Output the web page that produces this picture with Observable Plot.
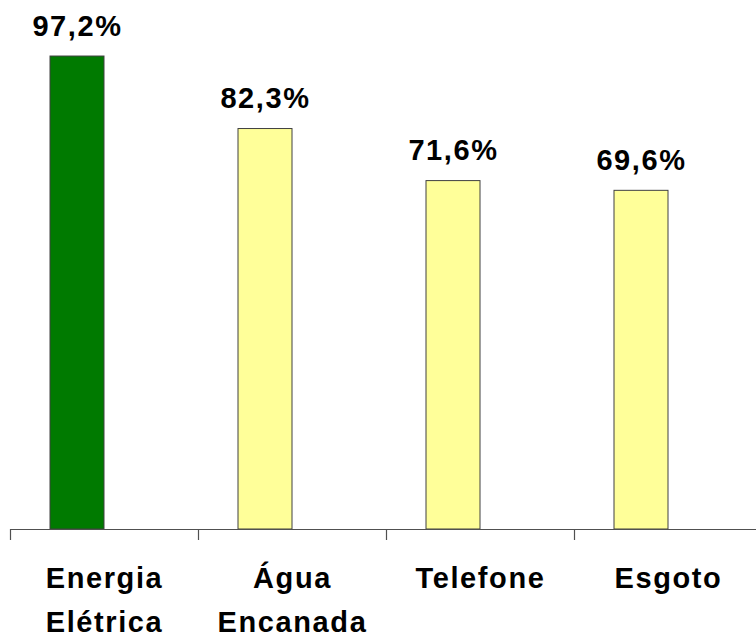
<!DOCTYPE html>
<html>
<head>
<meta charset="utf-8">
<script src="https://cdn.jsdelivr.net/npm/d3@7"></script>
<script src="https://cdn.jsdelivr.net/npm/@observablehq/plot@0.6"></script>
<style>
  html, body { margin: 0; padding: 0; background: #fff; }
  #chart svg text { letter-spacing: 1.6px; }
</style>
</head>
<body>
<div id="chart"></div>
<script>
const categories = ["Energia\nElétrica", "Água\nEncanada", "Telefone", "Esgoto"];
const values = [97.2, 82.3, 71.6, 69.6];
const fills = ["#007A00", "#FFFF99", "#FFFF99", "#FFFF99"];

const data = categories.map((c, i) => ({category: c, value: values[i], fill: fills[i]}));
const fmt = v => v.toFixed(1).replace(".", ",") + "%";

const chart = Plot.plot({
  width: 756,
  height: 635,
  marginLeft: 10,
  marginRight: 0,
  marginTop: 42.4,
  marginBottom: 106,
  style: {fontFamily: "'Liberation Sans', Arial, sans-serif", background: "#fff", color: "#000"},
  x: {domain: categories, range: [10, 762], padding: 0, axis: null, label: null},
  y: {domain: [0, 100], axis: null},
  marks: [
    Plot.barY(data, {
      x: "category", y: "value", fill: d => d.fill,
      stroke: "#404040", strokeWidth: 1,
      insetLeft: 40, insetRight: 94
    }),
    Plot.ruleY([0], {stroke: "#505050", strokeWidth: 1.2}),
    Plot.axisX({
      tickSize: 11, dx: -94, tickFormat: () => "", stroke: "#505050", strokeWidth: 1.2, label: null
    }),
    Plot.axisX({
      tickSize: 0, tickPadding: 27, fontSize: 29, fontWeight: "bold",
      lineHeight: 1.53, fill: "#000", label: null
    }),
    Plot.text(data, {
      x: "category", y: "value", text: d => fmt(d.value),
      dx: -27, dy: -21, lineAnchor: "bottom",
      fontSize: 29, fontWeight: "bold", fill: "#000"
    })
  ]
});
document.getElementById("chart").appendChild(chart);
</script>
</body>
</html>
